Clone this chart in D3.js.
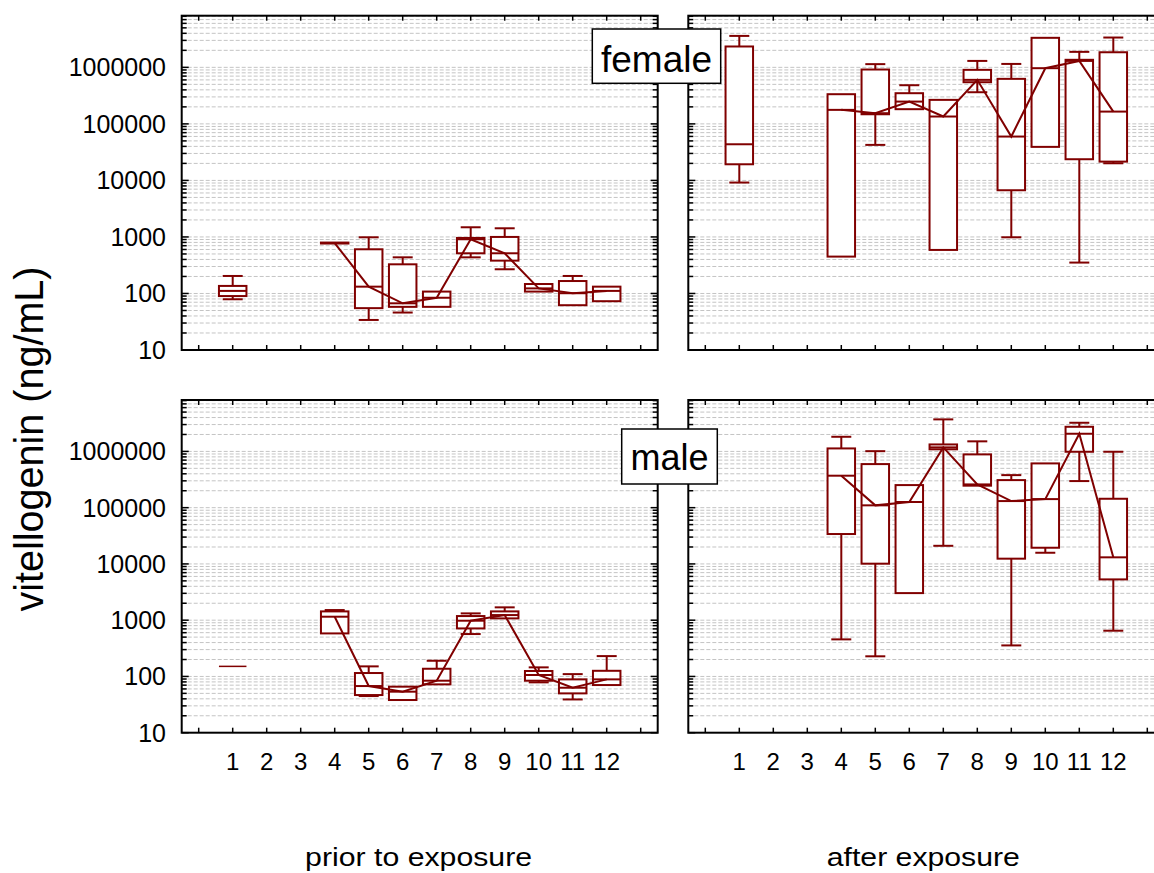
<!DOCTYPE html>
<html>
<head>
<meta charset="utf-8">
<script src="https://cdn.jsdelivr.net/npm/d3@7"></script>
<style>
  body { margin: 0; background: #fff; }
  text { font-family: "Liberation Sans", Arial, sans-serif; fill: #000; }
</style>
</head>
<body>
<svg id="chart"></svg>
<script>
// ---- data: [min, q1, median, q3, max] per sampling point, null = no sample
const categories = [1, 2, 3, 4, 5, 6, 7, 8, 9, 10, 11, 12];
const xTicks = d3.range(0, 14);
const yTickLabels = [10, 100, 1000, 10000, 100000, 1000000];

const femalePrior = [
  [79, 90, 111, 136, 204],
  null,
  null,
  [765, 765, 780, 795, 795],
  [34, 55, 132, 605, 986],
  [46, 58, 67, 328, 436],
  [58, 58, 84, 108, 108],
  [436, 514, 910, 960, 1483],
  [268, 381, 514, 1000, 1423],
  [108, 108, 123, 147, 147],
  [62, 62, 101, 166, 204],
  [73, 73, 111, 132, 132]
];

const femaleAfter = [
  [9170, 19300, 43600, 2340000, 3600000],
  null,
  null,
  [449, 449, 177000, 335000, 335000],
  [42500, 148000, 154500, 916000, 1140000],
  [182000, 182000, 248000, 349000, 483000],
  [589, 589, 135000, 266000, 266000],
  [363000, 546000, 601000, 904000, 1300000],
  [986, 6700, 59700, 626000, 1150000],
  [39200, 39200, 967000, 3330000, 3330000],
  [352, 23700, 1300000, 1360000, 1880000],
  [20100, 21500, 165000, 1850000, 3370000]
];

const malePrior = [
  [151, 151, 151, 151, 151],
  null,
  null,
  [582, 582, 1153, 1433, 1514],
  [44.8, 46.7, 67.5, 115, 151],
  [38.1, 38.1, 53.6, 65.8, 65.8],
  [72.3, 72.3, 84, 137, 190],
  [567, 714, 979, 1184, 1321],
  [1076, 1076, 1233, 1433, 1691],
  [78.5, 84, 106, 125, 145],
  [39, 50, 63, 88.7, 110],
  [70.3, 70.3, 88.7, 126, 230]
];

const maleAfter = [
  null,
  null,
  null,
  [456, 34000, 370000, 1130000, 1820000],
  [228, 10100, 110000, 595000, 1010000],
  [3030, 3030, 126000, 252000, 252000],
  [21000, 1090000, 1180000, 1330000, 3710000],
  [246000, 246000, 259000, 885000, 1510000],
  [356, 12400, 131000, 309000, 379000],
  [15800, 19400, 142000, 612000, 612000],
  [297000, 986000, 2060000, 2740000, 3230000],
  [650, 5310, 13100, 144000, 986000]
];

// ---- layout
const W = 1154, H = 873;
const COLOR = "#800000";
const panelW = 476;
const yDomain = [10, 8.2e6];

const panels = [
  { data: femalePrior, x0: 181.7, y0: 15.7, y1: 350, yLabels: true, xLabels: false },
  { data: femaleAfter, x0: 688.3, y0: 15.7, y1: 350, yLabels: false, xLabels: false },
  { data: malePrior, x0: 181.7, y0: 400, y1: 732.7, yLabels: true, xLabels: true },
  { data: maleAfter, x0: 688.3, y0: 400, y1: 732.7, yLabels: false, xLabels: true }
];

// all 1..9 x 10^n positions for grid and minor ticks
const logTicks = [];
for (let n = 1; n <= 6; n++) {
  for (let k = 1; k <= 9; k++) {
    const v = k * Math.pow(10, n);
    if (v <= yDomain[1]) logTicks.push({ v, major: k === 1 });
  }
}

const svg = d3.select("#chart").attr("width", W).attr("height", H);
svg.append("rect").attr("width", W).attr("height", H).attr("fill", "#fff");

panels.forEach((p) => {
  const x = d3.scaleLinear().domain([-0.5, 13.5]).range([p.x0, p.x0 + panelW]);
  const y = d3.scaleLog().domain(yDomain).range([p.y1, p.y0]);
  const g = svg.append("g");

  // grid
  g.append("g")
    .selectAll("line")
    .data(logTicks.filter((t) => t.v > yDomain[0]))
    .join("line")
    .attr("x1", p.x0)
    .attr("x2", p.x0 + panelW)
    .attr("y1", (d) => y(d.v))
    .attr("y2", (d) => y(d.v))
    .attr("stroke", "#c4c4c4")
    .attr("stroke-width", 1)
    .attr("stroke-dasharray", "4,2");

  const rows = p.data
    .map((d, i) => (d ? { cat: categories[i], v: d } : null))
    .filter(Boolean);

  const boxW = 27.5, capW = 20;
  const bx = g.append("g").attr("stroke", COLOR).attr("stroke-width", 2).attr("fill", "none");

  // whiskers
  rows.forEach((r) => {
    const cx = x(r.cat);
    const [mn, q1, md, q3, mx] = r.v;
    if (mx > q3) {
      bx.append("line").attr("x1", cx).attr("x2", cx).attr("y1", y(q3)).attr("y2", y(mx));
      bx.append("line").attr("x1", cx - capW / 2).attr("x2", cx + capW / 2).attr("y1", y(mx)).attr("y2", y(mx));
    }
    if (mn < q1) {
      bx.append("line").attr("x1", cx).attr("x2", cx).attr("y1", y(q1)).attr("y2", y(mn));
      bx.append("line").attr("x1", cx - capW / 2).attr("x2", cx + capW / 2).attr("y1", y(mn)).attr("y2", y(mn));
    }
  });

  // boxes
  rows.forEach((r) => {
    const cx = x(r.cat);
    const [mn, q1, md, q3, mx] = r.v;
    if (q3 === q1) {
      bx.append("line")
        .attr("x1", cx - boxW / 2).attr("x2", cx + boxW / 2)
        .attr("y1", y(q1)).attr("y2", y(q1))
        .attr("stroke-width", 1.5);
      return;
    }
    bx.append("rect")
      .attr("x", cx - boxW / 2)
      .attr("y", y(q3))
      .attr("width", boxW)
      .attr("height", y(q1) - y(q3))
      .attr("fill", "#fff");
    bx.append("line")
      .attr("x1", cx - boxW / 2).attr("x2", cx + boxW / 2)
      .attr("y1", y(md)).attr("y2", y(md));
  });

  // median line
  const line = d3.line()
    .defined((d) => d != null)
    .x((d, i) => x(categories[i]))
    .y((d) => y(d[2]));
  g.append("path")
    .datum(p.data)
    .attr("d", line)
    .attr("fill", "none")
    .attr("stroke", COLOR)
    .attr("stroke-width", 2);

  // ticks
  const tk = g.append("g").attr("stroke", "#000").attr("stroke-width", 1.5);
  xTicks.forEach((t) => {
    tk.append("line").attr("x1", x(t)).attr("x2", x(t)).attr("y1", p.y0).attr("y2", p.y0 + 5);
    tk.append("line").attr("x1", x(t)).attr("x2", x(t)).attr("y1", p.y1).attr("y2", p.y1 - 5);
  });
  logTicks.forEach((t) => {
    const len = t.major ? 7 : 5;
    tk.append("line").attr("x1", p.x0).attr("x2", p.x0 + len).attr("y1", y(t.v)).attr("y2", y(t.v));
    tk.append("line").attr("x1", p.x0 + panelW).attr("x2", p.x0 + panelW - len).attr("y1", y(t.v)).attr("y2", y(t.v));
  });

  // frame
  g.append("rect")
    .attr("x", p.x0)
    .attr("y", p.y0)
    .attr("width", panelW)
    .attr("height", p.y1 - p.y0)
    .attr("fill", "none")
    .attr("stroke", "#000")
    .attr("stroke-width", 2);

  if (p.yLabels) {
    g.append("g")
      .selectAll("text")
      .data(yTickLabels)
      .join("text")
      .attr("x", 166)
      .attr("y", (d) => y(d))
      .attr("dy", "0.36em")
      .attr("text-anchor", "end")
      .attr("font-size", 25)
      .text((d) => d);
  }
  if (p.xLabels) {
    g.append("g")
      .selectAll("text")
      .data(categories)
      .join("text")
      .attr("x", (d) => x(d))
      .attr("y", 770)
      .attr("text-anchor", "middle")
      .attr("font-size", 24)
      .text((d) => d);
  }
});

// panel labels
function tag(label, x0, y0, w, h, baseline, size) {
  svg.append("rect")
    .attr("x", x0).attr("y", y0).attr("width", w).attr("height", h)
    .attr("fill", "#fff").attr("stroke", "#000").attr("stroke-width", 1.5);
  svg.append("text")
    .attr("x", x0 + w / 2).attr("y", baseline)
    .attr("text-anchor", "middle")
    .attr("font-size", size)
    .text(label);
}
tag("female", 592.3, 29, 128.4, 54.3, 71.7, 37);
tag("male", 621.7, 429, 95.6, 55, 470, 36);

// axis titles
svg.append("text")
  .attr("transform", "translate(43.3,439) rotate(-90)")
  .attr("text-anchor", "middle")
  .attr("font-size", 41)
  .attr("textLength", 345)
  .attr("lengthAdjust", "spacingAndGlyphs")
  .text("vitellogenin (ng/mL)");

svg.append("text")
  .attr("x", 418.6).attr("y", 866)
  .attr("text-anchor", "middle")
  .attr("font-size", 26)
  .attr("textLength", 227)
  .attr("lengthAdjust", "spacingAndGlyphs")
  .text("prior to exposure");

svg.append("text")
  .attr("x", 923.3).attr("y", 866)
  .attr("text-anchor", "middle")
  .attr("font-size", 26)
  .attr("textLength", 193)
  .attr("lengthAdjust", "spacingAndGlyphs")
  .text("after exposure");
</script>
</body>
</html>
